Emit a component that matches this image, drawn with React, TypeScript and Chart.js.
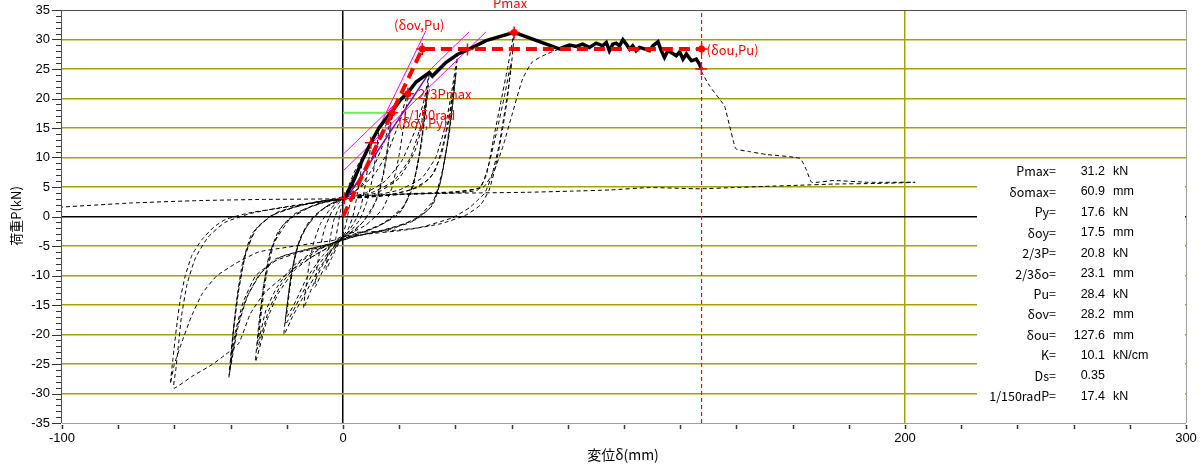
import React, { useEffect, useRef } from "react";
import { Chart, registerables } from "chart.js";
Chart.register(...registerables);

type P = [number, number];

// ---- axis ----
const xMin = -100, xMax = 300, xStep = 20;
const xLabelValues = [-100, 0, 200, 300];
const yMin = -35, yMax = 35, yStep = 5;

// ---- hysteresis loops (dashed) ----
const loop1: P[] = [[0.2,2.6],[2,4.8],[3.9,6.2],[3.2,4.0],[2.2,1.5],[1.2,-1.0],[0,-3.0],[-1.5,-4.3],[-3,-5.5],[-2.5,-3.5],[-1.6,-1],[-0.8,1.2],[0.2,2.6]];
const loop2: P[] = [[0.2,2.8],[3,6],[5.5,8.3],[6.9,9.6],[6,6.5],[4.8,3],[3.5,0],[1.8,-2.2],[0,-3.2],[-2,-5],[-4,-7],[-6,-9],[-5.3,-6],[-4.3,-3],[-3.2,-0.5],[-1.5,1.5],[0.2,2.8]];
const loop3: P[] = [[0.3,3],[4,7.5],[7.5,10.6],[9.9,12.5],[9,9],[7.8,5],[6.3,1.5],[4,-1],[1.5,-2.8],[0,-3.3],[-3,-5.5],[-6.5,-8.5],[-10,-12],[-9.2,-8.5],[-8,-5],[-6.5,-2],[-4,0.8],[-1.5,2.3],[0.3,3]];
const loop4: P[] = [[0.3,3],[3,5],[7,9.5],[10.5,13],[12.8,15],[11.8,11],[10.5,6.5],[8.5,2.5],[6,-0.5],[3,-2.3],[0,-3.3],[-3,-5],[-7,-8],[-11,-12],[-14,-15.5],[-13.2,-12],[-12,-8],[-10.5,-4.5],[-8,-1.2],[-5,1],[-2,2.4],[0.3,3]];
const loop5: P[] = [[0.3,3],[4,5],[9,8.5],[13.5,13.5],[17.5,17.8],[16.3,13],[14.8,8],[12.5,3.5],[9.5,0.5],[5,-2],[0,-3.5],[-3,-5],[-8,-8.5],[-14,-13.5],[-18,-17],[-21,-20],[-20,-15.5],[-18.8,-11],[-17,-6.5],[-14.5,-3],[-10,0.2],[-5,2],[0.3,3]];
const loop6: P[] = [[0.3,3],[6,5],[11,8.5],[14.5,12.5],[17,16],[15.8,11.5],[14,6.5],[11.5,2.5],[7,-1],[2,-3],[-1,-4],[-5,-6],[-10,-9],[-15,-13.5],[-20.5,-18.3],[-19.6,-14],[-18.3,-9.5],[-16.3,-5.2],[-13,-1.8],[-8,1],[-3,2.5],[0.3,3]];
const loop7: P[] = [[0.3,3],[5,4.5],[11,7],[16,11],[20,16],[23.1,21.0],[21.8,16],[20,10.5],[17.5,5],[14,1.2],[8,-1.5],[2,-3],[-2,-4],[-7,-6.5],[-13,-10.5],[-17,-14.5],[-20,-17],[-19,-12.5],[-17.5,-8],[-15.5,-4],[-12,-0.8],[-6,1.6],[0.3,3]];
const loop8: P[] = [[0.3,3],[8,4],[15,6],[21,9.5],[26,15],[29,20],[30.7,24.4],[29.5,19],[27.8,12.5],[25.5,6.5],[22,2],[15,-1],[7,-2.6],[0,-3.5],[-4,-5],[-10,-6.5],[-17,-9],[-23,-13],[-27,-17.5],[-31.1,-24.6],[-30,-18.5],[-28.5,-12.5],[-26.5,-7],[-23,-2.5],[-17,0.5],[-8,2.2],[0.3,3]];
const loop9: P[] = [[0.3,3],[10,4],[18,6],[24,10],[28,16],[30.3,22.2],[29.2,17],[27.5,11],[25,5.5],[21,1.2],[13,-1.5],[5,-3],[-1,-4],[-8,-5.5],[-16,-8],[-22,-11.5],[-26.5,-16],[-30.5,-22.5],[-29.5,-17],[-28,-11],[-25.5,-5.5],[-21,-1.2],[-14,1.2],[-6,2.5],[0.3,3]];
const loop10: P[] = [[0.3,3],[12,4],[20,6.5],[25.5,11],[28.5,16],[30,21],[28.8,16],[27,10],[24.5,4.5],[20,0.5],[12,-1.8],[4,-3.2],[-2,-4.2],[-10,-5.8],[-18,-8.5],[-23.5,-12],[-27.5,-16],[-30,-21],[-29,-16],[-27.3,-10],[-24.5,-4.5],[-19,-0.5],[-11,1.8],[-4,2.8],[0.3,3]];
const loop11: P[] = [[0.3,3],[10,3.5],[20,4.5],[28,6.5],[33,10],[36.5,15.5],[38.8,21.5],[40.8,27.5],[39.5,21],[37.8,14],[35.5,8],[32.5,3],[27,0],[18,-2],[8,-3],[0,-3.7],[-6,-5],[-15,-6],[-24,-7.5],[-31,-10],[-35.5,-14.5],[-38.5,-20],[-40.6,-27.3],[-39.3,-20.5],[-37.8,-14],[-35.8,-8],[-32.5,-3],[-26,0],[-16,1.8],[-7,2.7],[0.3,3]];
const loop12: P[] = [[0.3,3],[14,3.5],[24,4.5],[31,6.5],[35,10.5],[37.5,16],[39,20.5],[40.2,24.4],[39,19],[37.2,12.5],[35,6.5],[32,2],[26,-0.5],[15,-2.2],[5,-3.3],[-2,-4.3],[-12,-5.5],[-22,-6.8],[-29,-9.5],[-34,-13.5],[-37.5,-19],[-40.3,-26.3],[-39,-19.5],[-37.3,-13],[-35,-7],[-31.5,-2.5],[-25,0.3],[-14,2],[-5,2.8],[0.3,3]];
const loop13: P[] = [[0.3,3],[16,3.6],[27,5],[32.5,7.5],[35.5,12],[37.8,17],[39.6,23],[38.5,17.5],[36.8,11.5],[34.5,5.5],[31,1.5],[24,-1],[13,-2.5],[4,-3.4],[-4,-4.6],[-14,-5.7],[-24,-7.2],[-30,-10],[-34.5,-14],[-37.5,-18.5],[-39.9,-24.6],[-38.7,-18],[-37,-12],[-34.5,-6],[-30.5,-1.8],[-23,0.8],[-12,2.2],[-4,2.9],[0.3,3]];
const loop14: P[] = [[0.3,3],[10,3.5],[25,3.8],[40,4],[48,4.5],[51,7],[53.5,13],[56,19],[58.5,25],[60.9,31.2],[59.8,25],[57.8,18.5],[55.5,12],[53,7],[50.5,4],[48,2.8],[45,1.5],[39,-0.2],[27,-1.9],[14,-2.5],[2,-2.8],[-3,-4],[-10,-4.5],[-21,-5.3],[-30,-6],[-38,-7.9],[-45,-10.1],[-50,-13],[-54,-17],[-57.5,-21.5],[-60,-25],[-61.4,-28.3],[-60.5,-24],[-59.3,-19],[-57.9,-14],[-56.1,-10],[-53.7,-6.5],[-50.2,-3.9],[-46,-1.8],[-41.8,-0.5],[-33.5,0.6],[-20,1.6],[-9.7,2.3],[0.3,3]];
const loop15: P[] = [[0.3,3],[15,3.6],[30,3.9],[42,4.2],[49,5],[52,9],[55,15],[57.5,20.5],[59.8,26],[58.5,20],[56.5,14],[54.3,8.5],[52,4.5],[49,2],[44,0.3],[35,-1.2],[22,-2.3],[8,-3],[0,-3.5],[-3,-4.5],[-8,-6],[-15,-8],[-22,-10.5],[-28,-13],[-33,-16.5],[-37.1,-21.5],[-41.8,-23.4],[-46.6,-25.1],[-53.7,-27.1],[-60.2,-29.1],[-59.5,-26],[-58.6,-22],[-57.5,-17],[-55.5,-11.5],[-52.5,-7],[-48,-3.5],[-42,-1],[-33,0.5],[-21,1.6],[-10,2.4],[0.3,3]];
const finalLoading: P[] = [[0.3,3],[20,3.8],[40,4.2],[50,5],[54,8],[57,12],[60,17],[63.9,23.3],[67.4,26.2],[72.3,27.5],[77,28.4]];
const postPeak: P[] = [[127.5,24.6],[130.5,22.1],[134,19.9],[135.8,18.7],[137.6,15.3],[139.4,11.9],[140,11.4],[144.7,11.0],[150.8,10.5],[162.6,9.85],[165,7.8],[166.8,5.8],[174.7,6.1],[186.8,5.8],[203.6,5.8],[190,5.6],[175,5.5],[162.6,5.3],[150,5.1],[138.9,4.9],[127,4.7],[109,4.9],[95,4.5],[81.6,4.3],[65,4.1],[48.5,4.0],[30,3.9],[15,3.7],[1,3.4],[-4,3.0],[-28,2.9],[-51,2.7],[-75,2.3],[-100,1.6]];

// ---- skeleton (thick solid) ----
const envelope: P[] = [[0.4,2.9],[3.9,6.2],[6.9,9.6],[9.9,12.5],[12.8,15.0],[15.8,16.9],[17.5,17.8],[20.5,19.8],[23.1,21.0],[26,22.8],[30.7,24.4],[31.8,23.8],[36.6,26.1],[40.8,27.5],[43.7,28.1],[50.9,29.8],[60.9,31.2],[77,28.4],[78.2,28.66],[80.6,29.05],[83.0,28.83],[85.3,29.22],[87.7,28.66],[90.1,29.39],[92.4,28.94],[93.7,29.5],[94.8,28.09],[96.0,29.22],[97.2,29.39],[98.4,28.94],[99.6,29.96],[100.8,29.22],[102.0,28.37],[103.1,28.94],[104.3,28.09],[105.5,28.66],[106.7,28.49],[109.1,28.09],[110.3,28.94],[112.1,29.62],[113.3,28.09],[114.4,26.96],[115.6,28.09],[116.8,27.8],[118.6,27.24],[119.8,27.91],[121.0,26.67],[122.2,27.52],[124.0,26.39],[125.7,26.67],[126.9,25.82],[127.5,24.97]];

// ---- evaluation lines ----
const bilinear: P[] = [[0,0],[28.2,28.4],[127.6,28.4]];
const deltaUltimateLine: P[] = [[127.6,-35],[127.6,35]];
const tangent1: P[] = [[0,7.7],[50.9,31.3]];
const tangent2: P[] = [[0,10.5],[44.9,31.3]];
const initialStiffness: P[] = [[0.4,2.9],[29.5,31.5]];
const secantLine: P[] = [[1,2.9],[30.7,24.4]];
const yieldLine: P[] = [[0,17.6],[17.5,17.6]];
const markerCross: P[] = [[28.2,28.4],[44.3,28.3],[60.9,31.2],[23.1,20.8],[17.5,17.6],[9.9,12.5],[127.6,28.4],[127.5,25.0],[0.5,3.1]];
const markerDot: P[] = [[28.2,28.4],[60.9,31.2],[23.1,20.8],[17.5,17.6],[127.6,28.4]];

// ---- results table ----
const resultLabels = ["Pmax=", "δomax=", "Py=", "δoy=", "2/3P=", "2/3δo=", "Pu=", "δov=", "δou=", "K=", "Ds=", "1/150radP="];
const resultValues = ["31.2", "60.9", "17.6", "17.5", "20.8", "23.1", "28.4", "28.2", "127.6", "10.1", "0.35", "17.4"];
const resultUnits = ["kN", "mm", "kN", "mm", "kN", "mm", "kN", "mm", "mm", "kN/cm", "", "kN"];

const xTitle = "変位δ(mm)";
const yTitle = "荷重P(kN)";

const OLIVE = "#a3a300";
const FONT = '"Liberation Sans", Arial, sans-serif';
const CJK = '"Noto Sans CJK JP", "Liberation Sans", sans-serif';

const App = () => {
  const ref = useRef<HTMLCanvasElement>(null);

  useEffect(() => {
    const xy = (pts: P[]) => pts.map(([x, y]) => ({ x, y }));
    const loops = [loop1, loop2, loop3, loop4, loop5, loop6, loop7, loop8, loop9, loop10, loop11, loop12, loop13, loop14, loop15, finalLoading, postPeak];
    const dashed = (pts: P[]) => ({
      data: xy(pts), showLine: true, borderColor: "#000", borderWidth: 1, borderDash: [4, 3],
      pointRadius: 0, tension: 0.15, order: 20,
    });
    const solid = (pts: P[], color: string, width: number, order: number, dash: number[] = []) => ({
      data: xy(pts), showLine: true, borderColor: color, borderWidth: width, borderDash: dash,
      pointRadius: 0, tension: 0, order,
    });
    const datasets: any[] = [
      ...loops.map(dashed),
      solid(tangent1, "#ff00ff", 1, 12),
      solid(tangent2, "#ff00ff", 1, 12),
      solid(initialStiffness, "#ff00ff", 1, 12),
      solid(secantLine, "#8000c0", 1.5, 11),
      solid(yieldLine, "#66ee66", 2, 11),
      solid(envelope, "#000", 3.5, 6),
      solid(bilinear, "#ff0000", 4, 4, [11, 6]),
      solid(deltaUltimateLine, "#ff0000", 1.2, 3, [4, 3]),
      {
        data: xy(markerCross), showLine: false, pointStyle: "cross", pointRadius: 6,
        borderColor: "#ff0000", backgroundColor: "#ff0000", pointBorderWidth: 1.5, order: 2,
      },
      {
        data: xy(markerDot), showLine: false, pointStyle: "circle", pointRadius: 3.5,
        borderColor: "#ff0000", backgroundColor: "#ff0000", pointBorderWidth: 0, order: 1,
      },
    ];

    const decor = {
      id: "decor",
      beforeDatasetsDraw(chart: any) {
        const { ctx, chartArea } = chart;
        const ys = chart.scales.y;
        ctx.save();
        ctx.fillStyle = "#fff";
        const top = ys.getPixelForValue(10) + 1.5;
        ctx.fillRect(977, top, chartArea.right - 977 - 1, chartArea.bottom - 2 - top);
        ctx.restore();
      },
      afterDatasetsDraw(chart: any) {
        const { ctx, chartArea } = chart;
        const xs = chart.scales.x, ys = chart.scales.y;
        const L = chartArea.left, R = chartArea.right, T = chartArea.top, B = chartArea.bottom;
        ctx.save();
        // frame
        ctx.lineWidth = 1;
        ctx.strokeStyle = "#505050";
        ctx.beginPath(); ctx.moveTo(L, T + 0.5); ctx.lineTo(R, T + 0.5); ctx.stroke();
        ctx.beginPath(); ctx.moveTo(L - 0.5, T); ctx.lineTo(L - 0.5, B); ctx.stroke();
        ctx.strokeStyle = "#a0a0a0";
        ctx.beginPath(); ctx.moveTo(L, B + 0.5); ctx.lineTo(R, B + 0.5); ctx.stroke();
        ctx.beginPath(); ctx.moveTo(R + 0.5, T); ctx.lineTo(R + 0.5, B); ctx.stroke();
        // y ticks
        ctx.strokeStyle = "#333";
        for (let v = yMin; v <= yMax; v += 1) {
          const py = Math.round(ys.getPixelForValue(v)) + 0.5;
          const len = v % 5 === 0 ? 9 : 5;
          ctx.beginPath(); ctx.moveTo(L - 1 - len, py); ctx.lineTo(L - 1, py); ctx.stroke();
        }
        // x ticks
        ctx.lineWidth = 1.5;
        for (let v = xMin; v <= xMax; v += xStep) {
          const px = Math.round(xs.getPixelForValue(v)) + 0.5;
          ctx.beginPath(); ctx.moveTo(px, B + 2); ctx.lineTo(px, B + 6); ctx.stroke();
        }
        // red annotations
        ctx.fillStyle = "#ff0000";
        ctx.font = `13px ${CJK}`;
        ctx.textBaseline = "middle";
        const at = (x: number, y: number) => [xs.getPixelForValue(x), ys.getPixelForValue(y)];
        let [px, py] = at(28.2, 28.4);
        ctx.textAlign = "center";
        ctx.fillText("(δov,Pu)", px - 3, py - 24);
        [px, py] = at(60.9, 31.2);
        ctx.fillText("Pmax", px - 4, py - 29);
        ctx.textAlign = "left";
        [px, py] = at(23.1, 20.8);
        ctx.fillText("2/3Pmax", px + 10, py);
        [px, py] = at(17.5, 17.6);
        ctx.fillText("1/150rad", px + 9, py + 2);
        ctx.fillText("(δoy,Py)", px + 6, py + 10);
        [px, py] = at(127.6, 28.4);
        ctx.fillText("(δou,Pu)", px + 5, py + 1);
        ctx.restore();
      },
      afterDraw(chart: any) {
        const { ctx } = chart;
        ctx.save();
        ctx.fillStyle = "#000";
        ctx.textBaseline = "middle";
        resultLabels.forEach((lab, i) => {
          const y = 171.5 + i * 20.45;
          ctx.font = `12.5px ${CJK}`;
          ctx.textAlign = "right";
          ctx.fillText(lab, 1056, y);
          ctx.font = `12.5px ${FONT}`;
          ctx.fillText(resultValues[i], 1105, y);
          ctx.textAlign = "left";
          ctx.fillText(resultUnits[i], 1113, y);
        });
        // axis titles
        ctx.font = `14px ${CJK}`;
        ctx.textAlign = "center";
        ctx.fillText(xTitle, 623, 455);
        ctx.font = `13px ${CJK}`;
        ctx.translate(16, 216);
        ctx.rotate(-Math.PI / 2);
        ctx.fillText(yTitle, 0, 0);
        ctx.restore();
      },
    };

    const chart = new Chart(ref.current!, {
      type: "scatter",
      data: { datasets },
      plugins: [decor],
      options: {
        animation: false,
        responsive: false,
        devicePixelRatio: 1,
        layout: { padding: { top: 10, right: 17, left: 0, bottom: 0 } },
        plugins: { legend: { display: false }, tooltip: { enabled: false } },
        scales: {
          x: {
            type: "linear", min: xMin, max: xMax,
            afterFit: (s: any) => { s.height = 47; s.paddingLeft = 0; s.paddingRight = 0; },
            border: { display: false },
            grid: {
              drawTicks: false,
              lineWidth: 1.5,
              color: (c: any) => c.tick && c.tick.value === 0 ? "#000" : c.tick && c.tick.value === 200 ? OLIVE : "rgba(0,0,0,0)",
            },
            ticks: {
              stepSize: xStep, autoSkip: false, maxRotation: 0, padding: 8,
              color: "#000", font: { family: FONT, size: 13 },
              callback: (v: any) => (xLabelValues.includes(Number(v)) ? String(v) : ""),
            },
          },
          y: {
            type: "linear", min: yMin, max: yMax,
            afterFit: (s: any) => { s.width = 62; s.paddingTop = 0; s.paddingBottom = 0; },
            border: { display: false },
            grid: {
              drawTicks: false,
              lineWidth: 1.5,
              color: (c: any) => {
                const v = c.tick ? c.tick.value : NaN;
                if (v === 0) return "#000";
                if (v === yMin || v === yMax) return "rgba(0,0,0,0)";
                return OLIVE;
              },
            },
            ticks: {
              stepSize: yStep, autoSkip: false, padding: 12,
              color: "#000", font: { family: FONT, size: 13 },
            },
          },
        },
      } as any,
    });
    return () => chart.destroy();
  }, []);

  return (
    <div style={{ position: "fixed", left: 0, top: 0, width: 1203, height: 470, background: "#fff" }}>
      <canvas ref={ref} width={1203} height={470} style={{ display: "block" }} />
    </div>
  );
};

export default App;
